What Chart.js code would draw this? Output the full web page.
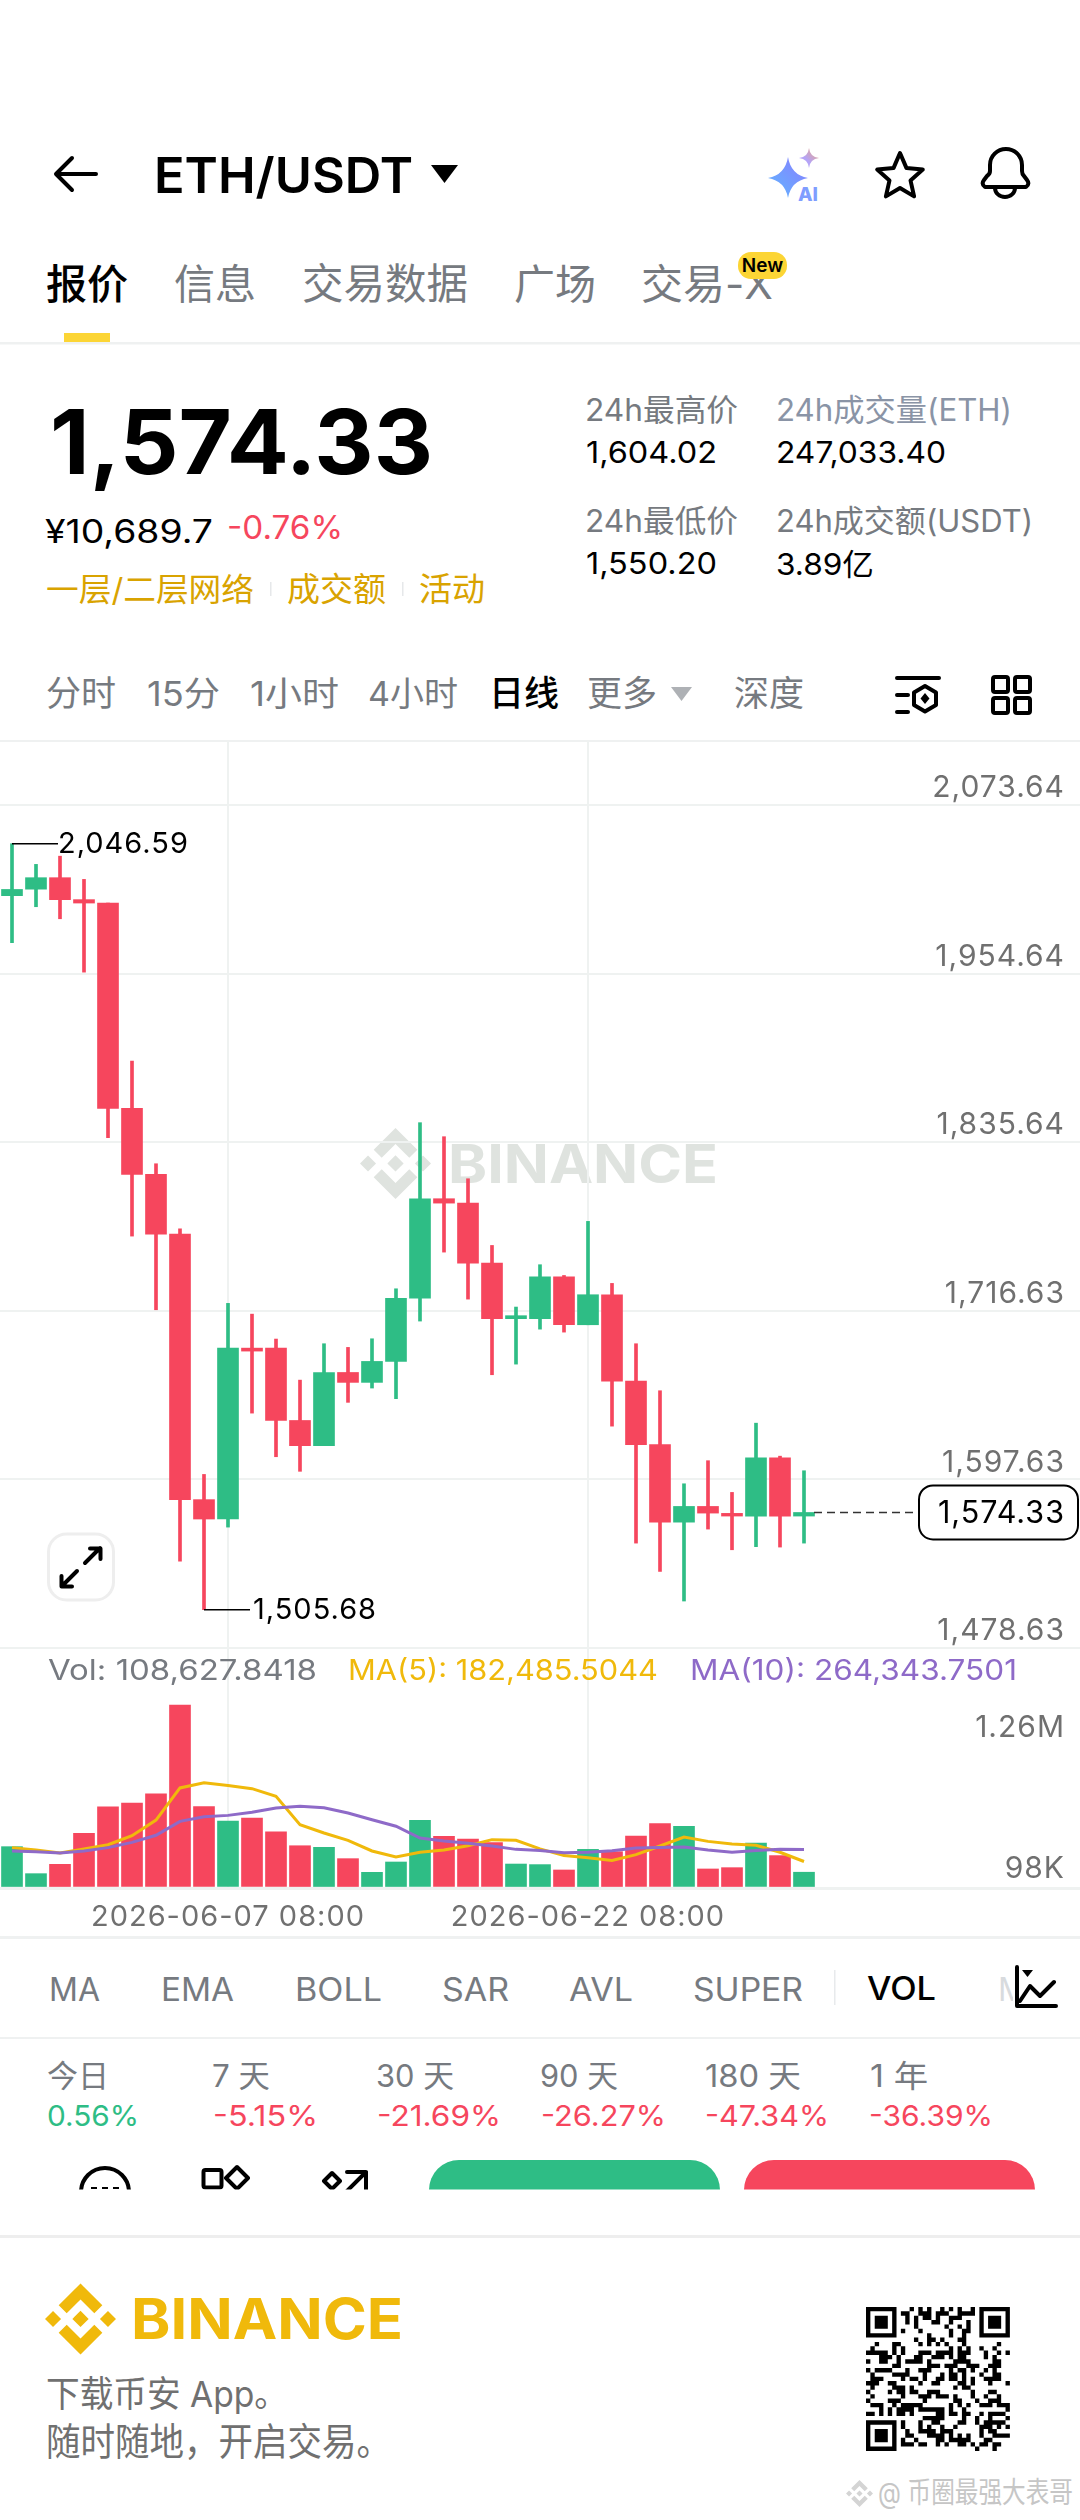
<!DOCTYPE html>
<html lang="zh">
<head>
<meta charset="utf-8">
<title>ETH/USDT</title>
<script src="https://cdn.jsdelivr.net/npm/chart.js@4"></script>
<style>
  html, body { margin: 0; padding: 0; background: #fff; }
  #page { position: relative; width: 1080px; height: 2520px; overflow: hidden; background: #fff; }
  #page svg, #page canvas { position: absolute; left: 0; }
  text { font-family: Inter, "Noto Sans CJK SC", sans-serif; }
  .g { fill: #767a80; }
  .k { fill: #000; }
  .gold { fill: #d9a300; }
  .up { fill: #2ebd85; }
  .down { fill: #f6465d; }
  .ic { fill: none; stroke: #000; stroke-width: 4; stroke-linecap: round; stroke-linejoin: round; }
  .rule { fill: #eff1f1; }
</style>
</head>
<body>
<div id="page">
<svg id="ui" width="1080" height="2520" viewBox="0 0 1080 2520" style="top:0">
  <defs>
    <symbol id="bnb" viewBox="0 0 126.61 126.61">
      <path d="M38.73 53.2l24.59-24.58 24.6 24.6 14.3-14.31L63.32 0 24.43 38.9zM0 63.31l14.3-14.31 14.31 14.31-14.31 14.3zM38.73 73.41l24.59 24.59 24.6-24.6 14.31 14.29-38.9 38.91-38.91-38.88-.02-.02zM98 63.31l14.3-14.31 14.31 14.3-14.31 14.32zM77.83 63.3L63.32 48.78 52.59 59.51l-1.24 1.23-2.54 2.54 14.51 14.5 14.51-14.47z"/>
    </symbol>
    <linearGradient id="ai" x1="1" y1="0" x2="0" y2="1">
      <stop offset="0" stop-color="#8a7cff"/><stop offset="1" stop-color="#5fb8ff"/>
    </linearGradient>
    <linearGradient id="ai2" x1="1" y1="0" x2="0" y2="1">
      <stop offset="0" stop-color="#f0a67a"/><stop offset="0.6" stop-color="#b5a4f7"/>
    </linearGradient>
    <clipPath id="cutRow"><rect x="0" y="2140" width="1080" height="49.5"/></clipPath>
  </defs>

  <!-- header -->
  <path class="ic" d="M96 174H57M72 158L56 174L72 190"/>
  <text x="154" y="193" font-size="49" font-weight="600" class="k" textLength="259" lengthAdjust="spacingAndGlyphs">ETH/USDT</text>
  <path d="M431 165H458L444.500 183Z" fill="#000"/>
  <path d="M788 157Q791 175 808 178Q791 181 788 198Q785 181 768 178Q785 175 788 157Z" fill="url(#ai)"/>
  <path d="M809 148Q810 157 819 158Q810 159 809 168Q808 159 799 158Q808 157 809 148Z" fill="url(#ai2)"/>
  <text x="798" y="201" font-size="19" font-weight="800" fill="#7f9dff">AI</text>
  <path class="ic" stroke-width="4.500" d="M900 153L906.500 168.100L922.800 169.600L910.500 180.400L914.100 196.400L900 188L885.900 196.400L889.500 180.400L877.200 169.600L893.500 168.100Z"/>
  <path class="ic" d="M990 171V165a16 16 0 0 1 32 0V171q0 3 2 5l3 4q3 4-1 7H985q-4-3-1-7l3-4q3-2 3-5zM995 188a10 9 0 0 0 20 0"/>

  <!-- tabs -->
  <text x="46" y="299" font-size="41" font-weight="500" class="k">报价</text>
  <text x="174" y="299" font-size="41" class="g">信息</text>
  <text x="302" y="299" font-size="41.500" class="g">交易数据</text>
  <text x="514" y="299" font-size="41" class="g">广场</text>
  <text x="641" y="299" font-size="41" class="g" textLength="132" lengthAdjust="spacingAndGlyphs">交易-X</text>
  <rect x="738" y="252" width="49" height="27" rx="13" fill="#fcd535"/>
  <text x="762.500" y="272" font-size="19" font-weight="600" text-anchor="middle" class="k">New</text>
  <rect x="64" y="333" width="46" height="9" fill="#fcd535"/>
  <rect class="rule" y="342" width="1080" height="2.500"/>

  <!-- price block -->
  <text x="50" y="474" font-size="89" font-weight="700" class="k" textLength="383" lengthAdjust="spacingAndGlyphs">1,574.33</text>
  <text x="45" y="543" font-size="32" class="k" textLength="168" lengthAdjust="spacingAndGlyphs">¥10,689.7</text>
  <text x="227" y="539" font-size="32" class="down" textLength="116" lengthAdjust="spacingAndGlyphs">-0.76%</text>
  <text x="46" y="601" font-size="32" class="gold" textLength="208" lengthAdjust="spacingAndGlyphs">一层/二层网络</text>
  <text x="287" y="601" font-size="33" class="gold">成交额</text>
  <text x="419" y="601" font-size="33" class="gold">活动</text>
  <rect x="270" y="582" width="1.500" height="14" fill="#e6e8ea"/>
  <rect x="402" y="582" width="1.500" height="14" fill="#e6e8ea"/>

  <text x="585" y="421" font-size="31" class="g" textLength="153" lengthAdjust="spacingAndGlyphs">24h最高价</text>
  <text x="776" y="421" font-size="31" fill="#8a94a6" textLength="236" lengthAdjust="spacingAndGlyphs">24h成交量(ETH)</text>
  <text x="586" y="463" font-size="30" class="k" textLength="131" lengthAdjust="spacingAndGlyphs">1,604.02</text>
  <text x="776" y="463" font-size="30" class="k" textLength="170" lengthAdjust="spacingAndGlyphs">247,033.40</text>
  <text x="585" y="532" font-size="31" class="g" textLength="153" lengthAdjust="spacingAndGlyphs">24h最低价</text>
  <text x="776" y="532" font-size="31" class="g" textLength="257" lengthAdjust="spacingAndGlyphs">24h成交额(USDT)</text>
  <text x="586" y="574" font-size="30" class="k" textLength="131" lengthAdjust="spacingAndGlyphs">1,550.20</text>
  <text x="776" y="575" font-size="30" class="k" textLength="98" lengthAdjust="spacingAndGlyphs">3.89亿</text>

  <!-- interval row -->
  <text x="46" y="706" font-size="35" class="g">分时</text>
  <text x="147" y="706" font-size="34" class="g" textLength="73" lengthAdjust="spacingAndGlyphs">15分</text>
  <text x="250" y="706" font-size="34" class="g" textLength="89" lengthAdjust="spacingAndGlyphs">1小时</text>
  <text x="368" y="706" font-size="34" class="g" textLength="90" lengthAdjust="spacingAndGlyphs">4小时</text>
  <text x="489" y="706" font-size="35" font-weight="500" class="k">日线</text>
  <text x="587" y="706" font-size="35" class="g">更多</text>
  <path d="M671 687H692L681.500 701Z" fill="#aeb1b5"/>
  <text x="734" y="706" font-size="35" class="g">深度</text>
  <path class="ic" d="M897 678H939M897 695H908M897 712H908M925 686L936 692.500V705L925 711.500L914 705V692.500Z"/>
  <path d="M925 693L929.500 698.500L925 704L920.500 698.500Z" fill="#000"/>
  <rect class="ic" x="993" y="677" width="15" height="15" rx="2"/>
  <rect class="ic" x="1015" y="677" width="15" height="15" rx="2"/>
  <rect class="ic" x="993" y="698" width="15" height="15" rx="2"/>
  <rect class="ic" x="1015" y="698" width="15" height="15" rx="2"/>
  <rect class="rule" y="740" width="1080" height="2"/>

  <!-- chart watermark, sits under the canvas -->
  <use href="#bnb" x="360" y="1128" width="71" height="71" fill="#dfe3df"/>
  <text x="448" y="1183" font-size="54" font-weight="700" fill="#dfe3df" textLength="270" lengthAdjust="spacingAndGlyphs">BINANCE</text>

  <!-- expand button -->
  <rect x="48.500" y="1534" width="65" height="66" rx="18" fill="#fff" stroke="#eeeeee" stroke-width="3"/>
  <path class="ic" d="M85 1563L100 1548M90 1548.500H100.500V1559M77 1571L62 1586M61.500 1576V1586.500H72"/>
  <rect class="rule" y="1936" width="1080" height="3"/>

  <!-- indicator row -->
  <text x="49" y="2001" font-size="32" class="g" textLength="51" lengthAdjust="spacingAndGlyphs">MA</text>
  <text x="161" y="2001" font-size="32" class="g" textLength="73" lengthAdjust="spacingAndGlyphs">EMA</text>
  <text x="295" y="2001" font-size="32" class="g" textLength="87" lengthAdjust="spacingAndGlyphs">BOLL</text>
  <text x="442" y="2001" font-size="32" class="g" textLength="67" lengthAdjust="spacingAndGlyphs">SAR</text>
  <text x="569" y="2001" font-size="32" class="g" textLength="64" lengthAdjust="spacingAndGlyphs">AVL</text>
  <text x="693" y="2001" font-size="32" class="g" textLength="110" lengthAdjust="spacingAndGlyphs">SUPER</text>
  <rect x="834" y="1970" width="1.500" height="35" fill="#e8eaec"/>
  <text x="867" y="2000" font-size="32" font-weight="500" class="k" textLength="69" lengthAdjust="spacingAndGlyphs">VOL</text>
  <text x="998" y="2001" font-size="32" fill="#d8dbde">M</text>
  <rect x="1013" y="1962" width="50" height="50" fill="#fff"/>
  <path class="ic" stroke-width="3.500" d="M1017 1967V2006H1056M1020 2001L1030 1986L1040 1996L1054 1982"/>
  <path d="M1022 1970H1033L1027.500 1977Z" fill="#000"/>
  <rect class="rule" y="2037" width="1080" height="2"/>

  <!-- change row -->
  <text x="47" y="2087" font-size="31" class="g">今日</text>
  <text x="212" y="2087" font-size="31" class="g" textLength="58" lengthAdjust="spacingAndGlyphs">7 天</text>
  <text x="376" y="2087" font-size="31" class="g" textLength="78" lengthAdjust="spacingAndGlyphs">30 天</text>
  <text x="540" y="2087" font-size="31" class="g" textLength="78" lengthAdjust="spacingAndGlyphs">90 天</text>
  <text x="705" y="2087" font-size="31" class="g" textLength="96" lengthAdjust="spacingAndGlyphs">180 天</text>
  <text x="870" y="2087" font-size="31" class="g" textLength="58" lengthAdjust="spacingAndGlyphs">1 年</text>
  <text x="47" y="2126" font-size="29" class="up" textLength="92" lengthAdjust="spacingAndGlyphs">0.56%</text>
  <text x="213" y="2126" font-size="29" class="down" textLength="105" lengthAdjust="spacingAndGlyphs">-5.15%</text>
  <text x="377" y="2126" font-size="29" class="down" textLength="124" lengthAdjust="spacingAndGlyphs">-21.69%</text>
  <text x="541" y="2126" font-size="29" class="down" textLength="125" lengthAdjust="spacingAndGlyphs">-26.27%</text>
  <text x="705" y="2126" font-size="29" class="down" textLength="124" lengthAdjust="spacingAndGlyphs">-47.34%</text>
  <text x="869" y="2126" font-size="29" class="down" textLength="124" lengthAdjust="spacingAndGlyphs">-36.39%</text>

  <!-- action row, cut off at the bottom in the screenshot -->
  <g clip-path="url(#cutRow)">
    <path class="ic" stroke-linecap="butt" d="M81 2195V2192a24 24 0 0 1 48 0V2195"/>
    <path d="M91 2188H97M102 2188H108M113 2188H119" stroke="#000" stroke-width="2"/>
    <rect class="ic" x="203.500" y="2170" width="18" height="17.500" rx="2"/>
    <path class="ic" d="M237 2167L248 2178L237 2189L226 2178Z"/>
    <path class="ic" d="M332 2173L340 2181L332 2189L324 2181Z"/>
    <path class="ic" stroke-linecap="butt" d="M347 2172H366V2192M366 2172L345 2193"/>
    <rect x="429" y="2160" width="291" height="60" rx="30" fill="#2ebd85"/>
    <rect x="744" y="2160" width="291" height="60" rx="30" fill="#f6465d"/>
  </g>
  <rect y="2235" width="1080" height="3" fill="#eeeeee"/>

  <!-- footer -->
  <use href="#bnb" x="45" y="2283" width="71" height="72" fill="#f0b90b"/>
  <text x="131" y="2339" font-size="56" font-weight="700" fill="#f0b90b" textLength="272" lengthAdjust="spacingAndGlyphs">BINANCE</text>
  <text x="46" y="2407" font-size="36" fill="#707070" textLength="242" lengthAdjust="spacingAndGlyphs">下载币安 App。</text>
  <text x="46" y="2455" font-size="38" fill="#707070" textLength="345" lengthAdjust="spacingAndGlyphs">随时随地，开启交易。</text>
  <g id="qr"></g>
  <use href="#bnb" x="846" y="2480" width="27" height="27" fill="#d4d4d4"/>
  <text x="878" y="2503" font-size="29" fill="#c6c6c6" textLength="195" lengthAdjust="spacingAndGlyphs">@ 币圈最强大表哥</text>
</svg>
<canvas id="priceChart" width="1080" height="909" style="top:741px"></canvas>
<canvas id="volChart" width="1080" height="289" style="top:1648px"></canvas>
<!-- volume legend, above the grid lines -->
<svg id="legend" width="1080" height="50" viewBox="0 1645 1080 50" style="top:1645px">
  <text x="48" y="1680" font-size="28" class="g" textLength="269" lengthAdjust="spacingAndGlyphs">Vol: 108,627.8418</text>
  <text x="348" y="1680" font-size="28" fill="#f0b90b" textLength="310" lengthAdjust="spacingAndGlyphs">MA(5): 182,485.5044</text>
  <text x="690" y="1680" font-size="28" fill="#8e6ac8" textLength="327" lengthAdjust="spacingAndGlyphs">MA(10): 264,343.7501</text>
</svg>
</div>

<script>
    // daily candles
    const days = ['05-29', '05-30', '05-31', '06-01', '06-02', '06-03', '06-04', '06-05', '06-06', '06-07',
      '06-08', '06-09', '06-10', '06-11', '06-12', '06-13', '06-14', '06-15', '06-16', '06-17',
      '06-18', '06-19', '06-20', '06-21', '06-22', '06-23', '06-24', '06-25', '06-26', '06-27',
      '06-28', '06-29', '06-30', '07-01', '07-02', '07-03', '07-04', '07-05', '07-06', '07-07',
      '07-08', '07-09', '07-10', '07-11', '07-12'];

    const opens = [2009.9, 2014.5, 2022.6, 2007.1, 2004.7, 1859.7, 1813.1, 1770.9, 1583.4, 1569.7,
      1690.4, 1690.4, 1639.3, 1621.5, 1673.2, 1666.2, 1681.0, 1725.7, 1795.9, 1792.8,
      1750.4, 1711.2, 1711.2, 1740.8, 1706.9, 1728.1, 1667.1, 1622.2, 1567.5, 1578.6,
      1573.7, 1571.8, 1613.0, 1571.8];
    const highs = [2046.59, 2032.0, 2037.8, 2021.4, 2004.7, 1893.1, 1820.6, 1774.7, 1601.2, 1722.0,
      1714.4, 1696.8, 1667.8, 1693.5, 1690.9, 1697.0, 1732.3, 1849.6, 1839.7, 1810.0,
      1762.9, 1719.4, 1749.3, 1741.7, 1779.9, 1736.1, 1693.5, 1660.3, 1594.6, 1610.9,
      1588.5, 1637.4, 1614.1, 1603.8];
    const lows = [1976.7, 2002.1, 1993.6, 1955.9, 1839.0, 1769.5, 1717.5, 1540.0, 1505.68, 1564.0,
      1644.5, 1613.7, 1603.4, 1621.5, 1652.1, 1662.2, 1654.7, 1709.5, 1758.2, 1725.0,
      1671.6, 1679.1, 1703.8, 1701.7, 1706.9, 1635.3, 1552.7, 1532.7, 1511.8, 1562.6,
      1548.0, 1550.2, 1549.9, 1552.7];
    const closes = [2014.3, 2022.6, 2007.1, 2004.7, 1859.7, 1813.1, 1770.9, 1583.4, 1569.7, 1690.4,
      1688.3, 1639.3, 1621.5, 1673.2, 1666.2, 1681.0, 1725.5, 1795.9, 1792.8, 1750.4,
      1711.2, 1713.3, 1740.8, 1706.9, 1728.1, 1667.1, 1622.2, 1567.5, 1578.6, 1573.9,
      1571.8, 1613.0, 1571.8, 1574.33];

    const volumes = [284600, 98700, 163000, 376000, 558000, 585000, 649000, 1260000, 560000, 461000,
      482000, 386000, 291000, 280000, 202000, 108000, 179000, 466000, 356000, 337000,
      312000, 165000, 161000, 124000, 266000, 250000, 358000, 443000, 425000, 131000,
      140000, 310000, 223000, 108627];
    const ma5 = [278000, 262000, 241000, 269000, 298000, 360000, 468000, 689000, 725000, 705000,
      684000, 631000, 436000, 379000, 328000, 255000, 213000, 246000, 262000, 291000,
      333000, 328000, 269000, 223000, 209000, 190000, 230000, 289000, 351000, 321000,
      303000, 294000, 246000, 182485];
    const ma10 = [255000, 250000, 241000, 255000, 278000, 314000, 363000, 459000, 491000, 500000,
      521000, 551000, 562000, 553000, 516000, 470000, 425000, 344000, 324000, 308000,
      289000, 266000, 259000, 243000, 246000, 257000, 275000, 278000, 282000, 262000,
      246000, 259000, 266000, 264343];

    const priceTicks = [2073.64, 1954.64, 1835.64, 1716.63, 1597.63, 1478.63];
    const dateTickIndexes = [9, 24];
    const highMark = { index: 0, value: 2046.59 };
    const lowMark = { index: 8, value: 1505.68 };
    const lastPrice = { index: 33, value: 1574.33 };

    const UP = '#2EBD85';
    const DOWN = '#F6465D';
    const GRID = '#eff2f1';
    const TICK_GREY = '#707070';
    const FONT = 'Inter, "Noto Sans CJK SC", sans-serif';

    const candleColors = closes.map((c, i) => (c >= opens[i] ? UP : DOWN));
    const fmtPrice = v => v.toLocaleString('en-US', { minimumFractionDigits: 2, maximumFractionDigits: 2 });
    const dateTicks = scale => { scale.ticks = dateTickIndexes.map(v => ({ value: v })); };
    // mirrored axes take no room and the plot runs edge to edge
    const flatAxis = scale => {
      scale.width = 0;
      scale.paddingTop = 0;
      scale.paddingBottom = 0;
    };

    // the app font has wider digits than Inter
    const wideDigits = {
      id: 'wideDigits',
      beforeDraw(chart) { chart.ctx.letterSpacing = '1px'; }
    };

    // max / min markers and the last price tag
    const priceMarks = {
      id: 'priceMarks',
      afterDatasetsDraw(chart) {
        const { ctx, scales: { x, y } } = chart;
        ctx.save();
        ctx.font = '29px ' + FONT;
        ctx.textBaseline = 'middle';

        ctx.strokeStyle = '#000';
        ctx.fillStyle = '#000';
        ctx.lineWidth = 1.5;
        const hx = x.getPixelForValue(highMark.index);
        const hy = y.getPixelForValue(highMark.value);
        ctx.beginPath();
        ctx.moveTo(hx, hy);
        ctx.lineTo(hx + 46, hy);
        ctx.stroke();
        ctx.fillText(fmtPrice(highMark.value), hx + 46, hy + 1);

        const lx = x.getPixelForValue(lowMark.index);
        const ly = y.getPixelForValue(lowMark.value);
        ctx.beginPath();
        ctx.moveTo(lx, ly);
        ctx.lineTo(lx + 46, ly);
        ctx.stroke();
        ctx.fillText(fmtPrice(lowMark.value), lx + 49, ly + 1);

        const px = x.getPixelForValue(lastPrice.index);
        const py = y.getPixelForValue(lastPrice.value);
        ctx.strokeStyle = '#333';
        ctx.setLineDash([8, 5]);
        ctx.beginPath();
        ctx.moveTo(px + 10, py);
        ctx.lineTo(918, py);
        ctx.stroke();
        ctx.setLineDash([]);

        ctx.strokeStyle = '#000';
        ctx.lineWidth = 2;
        ctx.fillStyle = '#fff';
        ctx.beginPath();
        ctx.roundRect(919, py - 27, 159, 54, 14);
        ctx.fill();
        ctx.stroke();
        ctx.fillStyle = '#000';
        ctx.textAlign = 'right';
        ctx.font = '30.5px ' + FONT;
        ctx.fillText(fmtPrice(lastPrice.value), 1065, py + 1);
        ctx.restore();
      }
    };

    const priceChart = new Chart(document.getElementById('priceChart'), {
      type: 'bar',
      data: {
        labels: days,
        datasets: [{
          label: 'body',
          data: opens.map((o, i) => [o, closes[i]]),
          backgroundColor: candleColors,
          barThickness: 21,
          grouped: false,
        }, {
          label: 'wick',
          data: lows.map((l, i) => [l, highs[i]]),
          backgroundColor: candleColors,
          barThickness: 3,
          grouped: false,
        }]
      },
      options: {
        responsive: false,
        animation: false,
        layout: { padding: { bottom: 2 } },
        plugins: { legend: { display: false }, tooltip: { enabled: false } },
        scales: {
          x: {
            afterBuildTicks: dateTicks,
            ticks: { display: false, autoSkip: false },
            grid: { color: GRID, lineWidth: 2, offset: false, drawTicks: false },
            border: { display: false },
          },
          y: {
            position: 'right',
            min: 1478.63,
            max: 2119.13,
            afterBuildTicks: scale => { scale.ticks = priceTicks.map(v => ({ value: v })); },
            afterFit: flatAxis,
            ticks: {
              mirror: true,
              padding: -15,
              labelOffset: -17,
              color: TICK_GREY,
              font: { family: FONT, size: 30 },
              callback: fmtPrice,
            },
            grid: { color: GRID, lineWidth: 2, drawTicks: false },
            border: { display: false },
          }
        }
      },
      plugins: [wideDigits, priceMarks],
    });

    const volChart = new Chart(document.getElementById('volChart'), {
      type: 'bar',
      data: {
        labels: days,
        datasets: [{
          type: 'line',
          label: 'MA(10)',
          data: ma10,
          borderColor: '#8E6AC8',
          borderWidth: 3,
          pointRadius: 0,
          tension: 0,
        }, {
          type: 'line',
          label: 'MA(5)',
          data: ma5,
          borderColor: '#F0B90B',
          borderWidth: 3,
          pointRadius: 0,
          tension: 0,
        }, {
          label: 'Vol',
          data: volumes,
          backgroundColor: candleColors,
          barThickness: 21,
        }]
      },
      options: {
        responsive: false,
        animation: false,
        plugins: { legend: { display: false }, tooltip: { enabled: false } },
        scales: {
          x: {
            afterBuildTicks: dateTicks,
            afterFit: scale => {
              scale.height = 49;
              scale.paddingLeft = 0;
              scale.paddingRight = 0;
            },
            ticks: {
              autoSkip: false,
              maxRotation: 0,
              padding: 12,
              color: TICK_GREY,
              font: { family: FONT, size: 29 },
              callback: v => '2026-' + days[v] + ' 08:00',
            },
            grid: { color: GRID, lineWidth: 2, offset: false, drawTicks: false },
            border: { display: false },
          },
          y: {
            position: 'right',
            min: 0,
            max: 1652400,
            afterBuildTicks: scale => { scale.ticks = [{ value: 0 }, { value: 1260000 }]; },
            afterFit: flatAxis,
            ticks: {
              mirror: true,
              padding: -15,
              labelOffset: 23,
              color: TICK_GREY,
              font: { family: FONT, size: 30 },
              callback: v => (v === 0 ? '' : '1.26M'),
            },
            grid: {
              color: c => (c.tick && c.tick.value === 0 ? GRID : 'transparent'),
              lineWidth: 3,
              drawTicks: false,
            },
            border: { display: false },
          },
          y2: {
            position: 'right',
            min: 0,
            max: 1652400,
            afterBuildTicks: scale => { scale.ticks = [{ value: 98000 }]; },
            afterFit: flatAxis,
            ticks: {
              mirror: true,
              padding: -15,
              labelOffset: -5,
              color: TICK_GREY,
              font: { family: FONT, size: 30 },
              callback: () => '98K',
            },
            grid: { display: false, drawTicks: false },
            border: { display: false },
          }
        }
      },
      plugins: [wideDigits],
    });

    // decorative QR block in the footer
    const qrSize = 33, qrCell = 4.36, qrX = 866, qrY = 2307;
    const inFinder = (c, r) => (c < 8 && r < 8) || (c > 24 && r < 8) || (c < 8 && r > 24);
    const finderOn = (c, r) => {
      const fc = c > 24 ? c - 26 : c, fr = r > 24 ? r - 26 : r;
      if (fc < 0 || fr < 0 || fc > 6 || fr > 6) return false;
      return fc === 0 || fc === 6 || fr === 0 || fr === 6 || (fc > 1 && fc < 5 && fr > 1 && fr < 5);
    };
    let qrPath = '';
    for (let r = 0; r < qrSize; r++) {
      for (let c = 0; c < qrSize; c++) {
        const on = inFinder(c, r) ? finderOn(c, r) : ((c * 31 + r * 17 + c * r * 7) ^ (c * r)) % 7 < 3;
        if (on) qrPath += 'M' + (qrX + c * qrCell) + ' ' + (qrY + r * qrCell) + 'h' + qrCell + 'v' + qrCell + 'h-' + qrCell + 'z';
      }
    }
    const qrEl = document.createElementNS('http://www.w3.org/2000/svg', 'path');
    qrEl.setAttribute('d', qrPath);
    qrEl.setAttribute('fill', '#000');
    document.getElementById('qr').appendChild(qrEl);
</script>
</body>
</html>
